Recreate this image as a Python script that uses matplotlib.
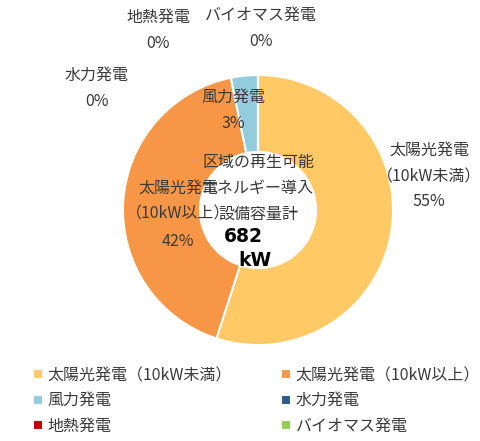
import numpy as np
import matplotlib
matplotlib.use("Agg")
import matplotlib.pyplot as plt

plt.rcParams['font.family'] = ['Noto Sans CJK JP', 'DejaVu Sans']

# data (kW)
categories = ['太陽光発電（10kW未満）', '太陽光発電（10kW以上）', '風力発電',
              '水力発電', '地熱発電', 'バイオマス発電']
values = [375, 285, 22, 0, 0, 0]
colors = ['#FFCA65', '#F79646', '#93CDDD', '#2F5C8F', '#C00000', '#92D050']
total = sum(values)

W, H = 481, 441
fig = plt.figure(figsize=(W / 100, H / 100), dpi=100)

# pie axes: center (258, 210) px, radius 135 px
cx, cy, r = 258, 210, 135
ax = fig.add_axes([(cx - r) / W, (H - cy - r) / H, 2 * r / W, 2 * r / H])
wedges, _ = ax.pie(values, colors=colors, startangle=90, counterclock=False,
                   radius=1, wedgeprops=dict(width=0.57, edgecolor='white', linewidth=1.5))
ax.set_xlim(-1, 1)
ax.set_ylim(-1, 1)
ax.set_aspect('equal')
ax.axis('off')

txt_col = '#3a3a3a'
fs = 11.5


def ftext(x, y, s, **kw):
    kw.setdefault('fontsize', fs)
    kw.setdefault('color', txt_col)
    fig.text(x / W, 1 - y / H, s, ha='center', va='center', **kw)


pct = [f"{v / total * 100:.0f}%" for v in values]

# data labels (name / pct), positions in px
label_pos = {
    0: (429, [150, 177, 202]),
    1: (178, [188, 214, 241]),
    2: (233, [97, 123]),
    3: (97, [75, 102]),
    4: (158, [17, 44]),
    5: (261, [15, 42]),
}
for i, (x, ys) in label_pos.items():
    name = categories[i]
    if len(ys) == 3:
        lines = ['太陽光発電', name[5:], pct[i]]
    else:
        lines = [name, pct[i]]
    for s, y in zip(lines, ys):
        ftext(x, y, s)

# center text
ftext(258, 163, '区域の再生可能')
ftext(258, 189, 'エネルギー導入')
ftext(258, 214, '設備容量計')
ftext(243, 236, f'{total}', fontsize=13.5, fontweight='bold', color='black',
      family='DejaVu Sans')
ftext(255, 260, 'kW', fontsize=13.5, fontweight='bold', color='black',
      family='DejaVu Sans')

# legend, row-major order
order = [0, 2, 4, 1, 3, 5]
leg = fig.legend([wedges[i] for i in order], [categories[i] for i in order],
                 ncol=2, loc='upper left', bbox_to_anchor=(33 / W, 1 - 367 / H),
                 frameon=False, fontsize=fs, handlelength=0.6, handleheight=0.6,
                 handletextpad=0.3, columnspacing=3.1, labelspacing=0.52,
                 borderaxespad=0, borderpad=0)
for t in leg.get_texts():
    t.set_color(txt_col)

fig.savefig('out.png', dpi=100)
